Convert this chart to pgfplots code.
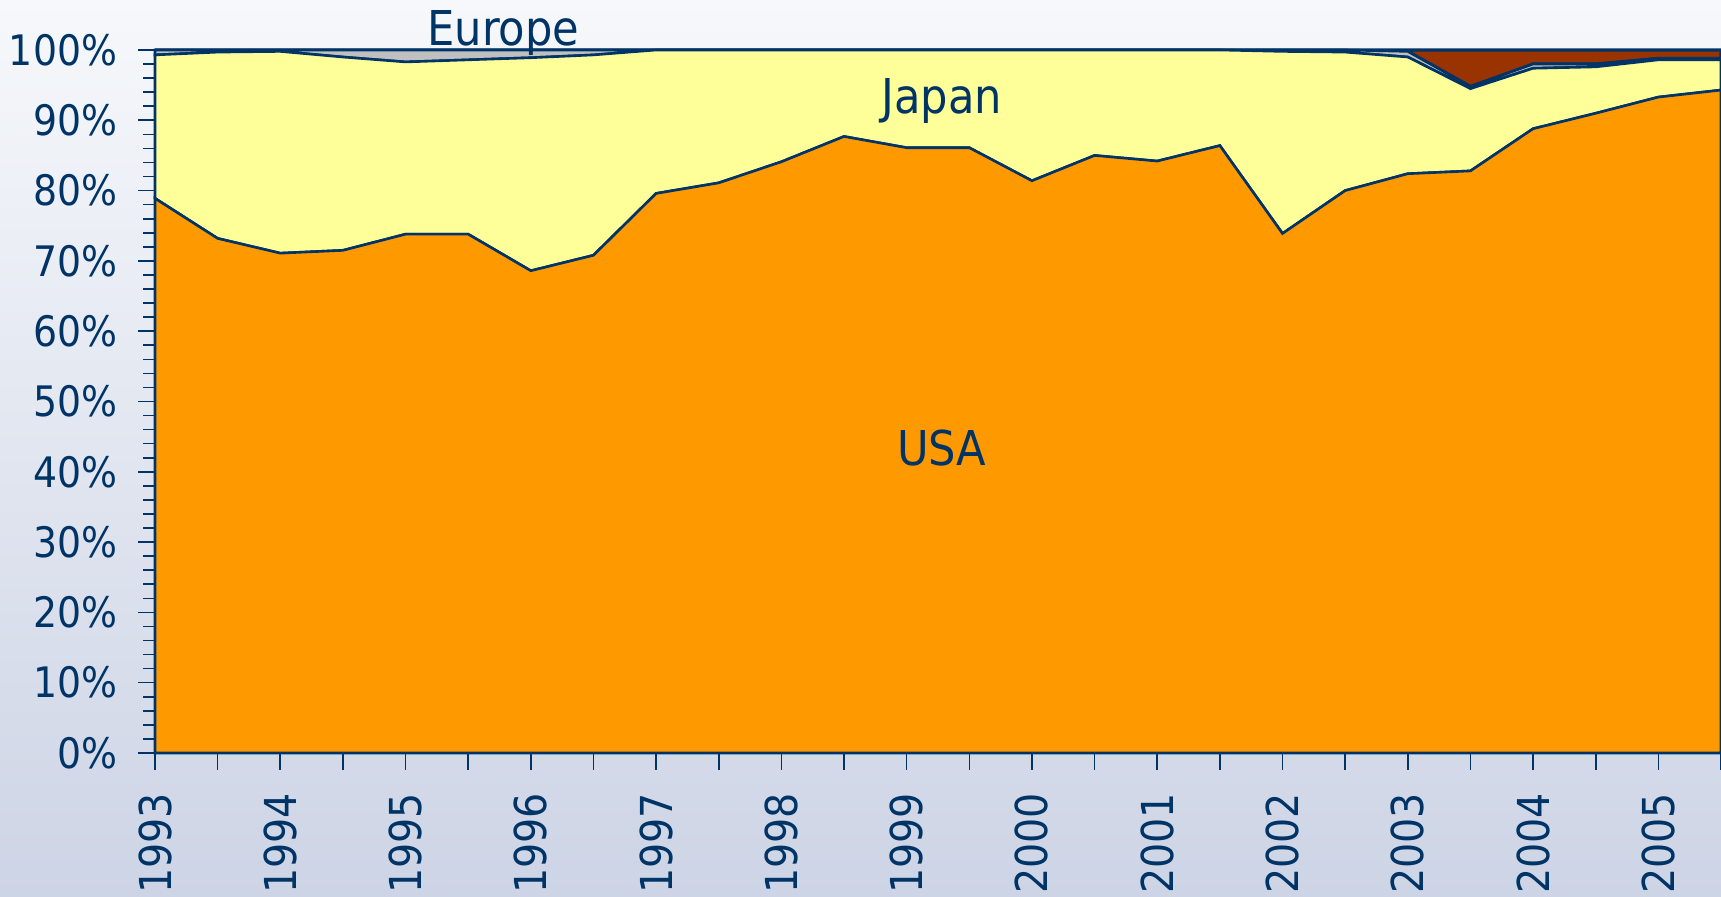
\documentclass[border=0pt]{standalone}
\usepackage{pgfplots}
\pgfplotsset{compat=1.18}
\usepackage{fontspec}
\setmainfont{DejaVu Sans Condensed}
\definecolor{navy}{HTML}{003366}
\definecolor{usa}{HTML}{FF9900}
\definecolor{japan}{HTML}{FFFF99}
\definecolor{europe}{HTML}{C0C0C0}
\definecolor{other}{HTML}{993300}
\definecolor{bgtop}{HTML}{F6F8FB}
\definecolor{bgbot}{HTML}{CDD4E5}
\begin{document}
\begin{tikzpicture}
\shade[top color=bgtop, bottom color=bgbot] (-77.5pt,-72pt) rectangle (783pt,376.5pt);
\useasboundingbox (-77.5pt,-72pt) rectangle (783pt,376.5pt);
\begin{axis}[
  at={(0,0)}, anchor=south west,
  scale only axis, width=783pt, height=351.5pt,
  xmin=1993, xmax=2005.5, ymin=0, ymax=100,
  axis x line=bottom, axis y line=left,
  axis line style={navy, line width=1.4pt, -},
  stack plots=y,
  clip=false,
  xtick={1993,1993.5,...,2005.5},
  xticklabels={1993,,1994,,1995,,1996,,1997,,1998,,1999,,2000,,2001,,2002,,2003,,2004,,2005,},
  ytick={0,10,...,100},
  yticklabels={0\%,10\%,20\%,30\%,40\%,50\%,60\%,70\%,80\%,90\%,100\%},
  minor y tick num=4,
  tick align=outside,
  major tick length=8.5pt,
  minor tick length=6pt,
  xtick style={navy, line width=0.8pt},
  ytick style={navy, line width=0.8pt},
  tick label style={text=navy},
  x tick label style={rotate=90, anchor=east, font=\fontsize{22}{26}\selectfont, xshift=-8pt},
  y tick label style={font=\fontsize{21}{25}\selectfont, xshift=-7pt},
]
\addplot[fill=usa, draw=navy, line width=1.3pt] coordinates {
(1993,78.9) (1993.5,73.2) (1994,71.1) (1994.5,71.5) (1995,73.8) (1995.5,73.8)
(1996,68.6) (1996.5,70.8) (1997,79.6) (1997.5,81.1) (1998,84.1) (1998.5,87.7)
(1999,86.1) (1999.5,86.1) (2000,81.4) (2000.5,85.0) (2001,84.2) (2001.5,86.4)
(2002,73.9) (2002.5,80.0) (2003,82.4) (2003.5,82.8) (2004,88.8) (2004.5,91.0)
(2005,93.3) (2005.5,94.3)} \closedcycle;
\addplot[fill=japan, draw=navy, line width=1.3pt] coordinates {
(1993,20.4) (1993.5,26.5) (1994,28.7) (1994.5,27.5) (1995,24.5) (1995.5,24.8)
(1996,30.3) (1996.5,28.5) (1997,20.4) (1997.5,18.9) (1998,15.9) (1998.5,12.3)
(1999,13.9) (1999.5,13.9) (2000,18.6) (2000.5,15.0) (2001,15.8) (2001.5,13.6)
(2002,25.9) (2002.5,19.7) (2003,16.6) (2003.5,11.7) (2004,8.6) (2004.5,6.6)
(2005,5.3) (2005.5,4.3)} \closedcycle;
\addplot[fill=europe, draw=navy, line width=1.3pt] coordinates {
(1993,0.7) (1993.5,0.3) (1994,0.2) (1994.5,1.0) (1995,1.7) (1995.5,1.4)
(1996,1.1) (1996.5,0.7) (1997,0) (1997.5,0) (1998,0) (1998.5,0)
(1999,0) (1999.5,0) (2000,0) (2000.5,0) (2001,0) (2001.5,0)
(2002,0.2) (2002.5,0.3) (2003,0.8) (2003.5,0.3) (2004,0.6) (2004.5,0.4)
(2005,0.2) (2005.5,0.2)} \closedcycle;
\addplot[fill=other, draw=navy, line width=1.6pt] coordinates {
(1993,0) (1993.5,0) (1994,0) (1994.5,0) (1995,0) (1995.5,0)
(1996,0) (1996.5,0) (1997,0) (1997.5,0) (1998,0) (1998.5,0)
(1999,0) (1999.5,0) (2000,0) (2000.5,0) (2001,0) (2001.5,0)
(2002,0) (2002.5,0) (2003,0.2) (2003.5,5.2) (2004,2.0) (2004.5,2.0)
(2005,1.2) (2005.5,1.2)} \closedcycle;
\coordinate (usalbl) at (axis cs:1999.28,43.4);
\coordinate (japlbl) at (axis cs:1999.28,92.8);
\coordinate (eurlbl) at (axis cs:1995.78,100.7);
\end{axis}
\node[font=\fontsize{24}{28}\selectfont, text=navy] at (usalbl) {USA};
\node[font=\fontsize{24}{28}\selectfont, text=navy] at (japlbl) {Japan};
\node[font=\fontsize{24}{28}\selectfont, text=navy, anchor=base] at (eurlbl) {Europe};
\end{tikzpicture}
\end{document}
